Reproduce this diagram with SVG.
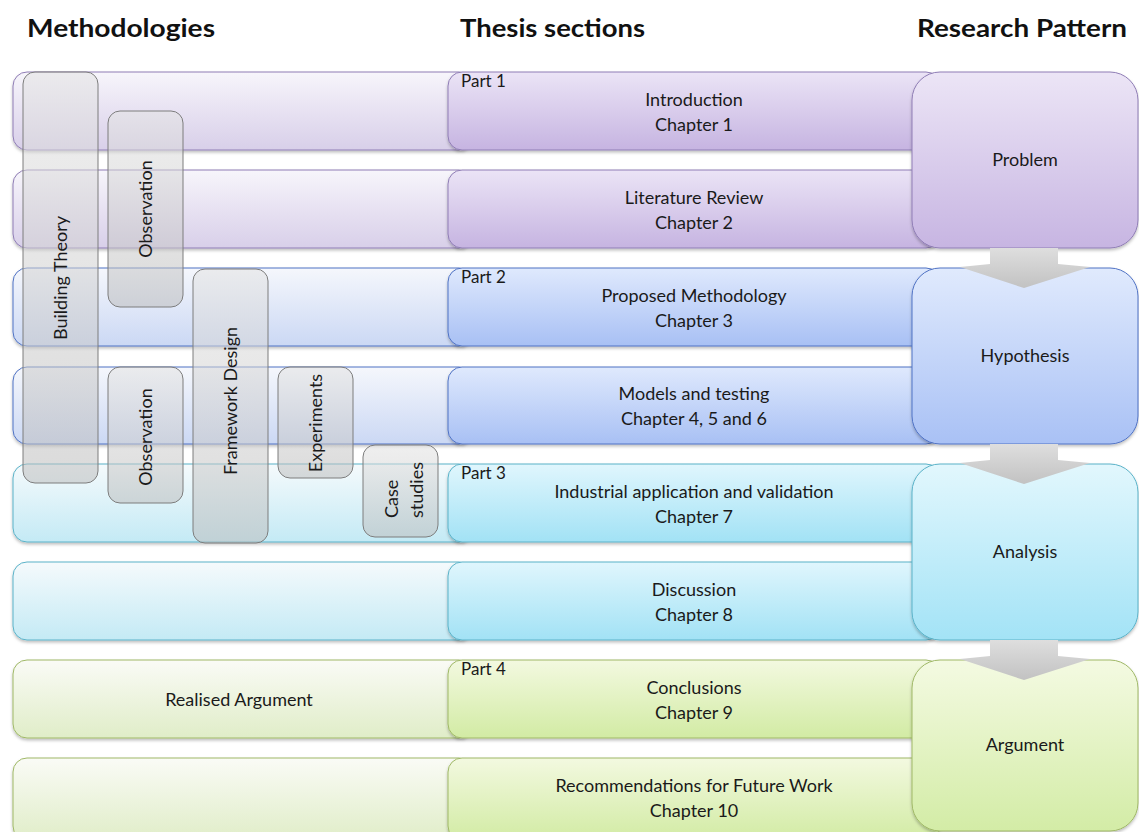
<svg xmlns="http://www.w3.org/2000/svg" width="1139" height="832" viewBox="0 0 1139 832">
  <defs>
    <!-- pale left-hand bars -->
    <linearGradient id="lPurple" x1="0" y1="0" x2="0" y2="1"><stop offset="0" stop-color="#f7f5fb"/><stop offset="1" stop-color="#d8cfe9"/></linearGradient>
    <linearGradient id="lBlue" x1="0" y1="0" x2="0" y2="1"><stop offset="0" stop-color="#f5f7fc"/><stop offset="1" stop-color="#cbd8f4"/></linearGradient>
    <linearGradient id="lCyan" x1="0" y1="0" x2="0" y2="1"><stop offset="0" stop-color="#f5fafc"/><stop offset="1" stop-color="#c4eaf5"/></linearGradient>
    <linearGradient id="lGreen" x1="0" y1="0" x2="0" y2="1"><stop offset="0" stop-color="#fafbf6"/><stop offset="1" stop-color="#e0edc8"/></linearGradient>
    <!-- coloured section boxes -->
    <linearGradient id="cPurple" x1="0" y1="0" x2="0" y2="1"><stop offset="0" stop-color="#ebe4f6"/><stop offset="1" stop-color="#c6b4e1"/></linearGradient>
    <linearGradient id="cBlue" x1="0" y1="0" x2="0" y2="1"><stop offset="0" stop-color="#dfe9fd"/><stop offset="1" stop-color="#a8c0f4"/></linearGradient>
    <linearGradient id="cCyan" x1="0" y1="0" x2="0" y2="1"><stop offset="0" stop-color="#e0f6fd"/><stop offset="1" stop-color="#a2e2f5"/></linearGradient>
    <linearGradient id="cGreen" x1="0" y1="0" x2="0" y2="1"><stop offset="0" stop-color="#f3f9e0"/><stop offset="1" stop-color="#d2eba4"/></linearGradient>
    <!-- research pattern boxes -->
    <linearGradient id="rPurple" x1="0" y1="0" x2="0" y2="1"><stop offset="0" stop-color="#ece5f6"/><stop offset="1" stop-color="#c7b5e2"/></linearGradient>
    <linearGradient id="rBlue" x1="0" y1="0" x2="0" y2="1"><stop offset="0" stop-color="#e0eafd"/><stop offset="1" stop-color="#a9c1f5"/></linearGradient>
    <linearGradient id="rCyan" x1="0" y1="0" x2="0" y2="1"><stop offset="0" stop-color="#e2f7fd"/><stop offset="1" stop-color="#a3e3f6"/></linearGradient>
    <linearGradient id="rGreen" x1="0" y1="0" x2="0" y2="1"><stop offset="0" stop-color="#f4fae2"/><stop offset="1" stop-color="#d3eca6"/></linearGradient>
    <!-- translucent methodology boxes and arrows -->
    <linearGradient id="gGray" x1="0" y1="0" x2="0" y2="1"><stop offset="0" stop-color="#e2e2e2" stop-opacity="0.55"/><stop offset="1" stop-color="#bdbdbd" stop-opacity="0.55"/></linearGradient>
    <linearGradient id="gArrow" x1="0" y1="0" x2="0" y2="1"><stop offset="0" stop-color="#dedede"/><stop offset="1" stop-color="#c2c2c2"/></linearGradient>
    <filter id="shadow" x="-5%" y="-10%" width="110%" height="130%">
      <feDropShadow dx="0" dy="2" stdDeviation="1.5" flood-color="#000" flood-opacity="0.25"/>
    </filter>
  </defs>
  <style>
    text { font-family: Lato, "Liberation Sans", sans-serif; fill: #1a1a1a; }
    .hdr { font-weight: bold; font-size: 25px; fill: #111; }
    .lbl { font-size: 18px; text-anchor: middle; }
    .part { font-size: 17px; text-anchor: start; }
    .vlbl { font-size: 18px; text-anchor: middle; dominant-baseline: central; }
    .bar { filter: url(#shadow); }
    .pu { stroke: #8f7db5; stroke-width: 1; }
    .bl { stroke: #4f72c4; stroke-width: 1; }
    .cy { stroke: #5ab2c8; stroke-width: 1; }
    .gr { stroke: #9fb866; stroke-width: 1; }
    .meth { fill: url(#gGray); stroke: #7d7d7d; stroke-width: 1; }
    .arrow { fill: url(#gArrow); stroke: none; }
  </style>

  <rect width="1139" height="832" fill="#ffffff"/>

  <!-- column headings -->
  <g id="headers">
    <text class="hdr" x="27" y="37" textLength="188" lengthAdjust="spacingAndGlyphs">Methodologies</text>
    <text class="hdr" x="460" y="37" textLength="185" lengthAdjust="spacingAndGlyphs">Thesis sections</text>
    <text class="hdr" x="917" y="37" textLength="210" lengthAdjust="spacingAndGlyphs">Research Pattern</text>
  </g>

  <!-- Part 1 -->
  <g id="row-introduction">
    <rect class="bar pu" x="13" y="72" width="460" height="78" rx="14" fill="url(#lPurple)"/>
    <rect class="bar pu" x="448" y="72" width="492" height="78" rx="14" fill="url(#cPurple)"/>
    <text class="part" x="461" y="87">Part 1</text>
    <text class="lbl" x="694" y="106">Introduction</text>
    <text class="lbl" x="694" y="131">Chapter 1</text>
  </g>
  <g id="row-literature">
    <rect class="bar pu" x="13" y="170" width="460" height="78" rx="14" fill="url(#lPurple)"/>
    <rect class="bar pu" x="448" y="170" width="492" height="78" rx="14" fill="url(#cPurple)"/>
    <text class="lbl" x="694" y="204">Literature Review</text>
    <text class="lbl" x="694" y="229">Chapter 2</text>
  </g>

  <!-- Part 2 -->
  <g id="row-methodology">
    <rect class="bar bl" x="13" y="268" width="460" height="78" rx="14" fill="url(#lBlue)"/>
    <rect class="bar bl" x="448" y="268" width="492" height="78" rx="14" fill="url(#cBlue)"/>
    <text class="part" x="461" y="283">Part 2</text>
    <text class="lbl" x="694" y="302">Proposed Methodology</text>
    <text class="lbl" x="694" y="327">Chapter 3</text>
  </g>
  <g id="row-models">
    <rect class="bar bl" x="13" y="367" width="460" height="77" rx="14" fill="url(#lBlue)"/>
    <rect class="bar bl" x="448" y="367" width="492" height="77" rx="14" fill="url(#cBlue)"/>
    <text class="lbl" x="694" y="400">Models and testing</text>
    <text class="lbl" x="694" y="425">Chapter 4, 5 and 6</text>
  </g>

  <!-- Part 3 -->
  <g id="row-industrial">
    <rect class="bar cy" x="13" y="464" width="460" height="78" rx="14" fill="url(#lCyan)"/>
    <rect class="bar cy" x="448" y="464" width="492" height="78" rx="14" fill="url(#cCyan)"/>
    <text class="part" x="461" y="479">Part 3</text>
    <text class="lbl" x="694" y="498">Industrial application and validation</text>
    <text class="lbl" x="694" y="523">Chapter 7</text>
  </g>
  <g id="row-discussion">
    <rect class="bar cy" x="13" y="562" width="460" height="78" rx="14" fill="url(#lCyan)"/>
    <rect class="bar cy" x="448" y="562" width="492" height="78" rx="14" fill="url(#cCyan)"/>
    <text class="lbl" x="694" y="596">Discussion</text>
    <text class="lbl" x="694" y="621">Chapter 8</text>
  </g>

  <!-- Part 4 -->
  <g id="row-conclusions">
    <rect class="bar gr" x="13" y="660" width="460" height="78" rx="14" fill="url(#lGreen)"/>
    <rect class="bar gr" x="448" y="660" width="492" height="78" rx="14" fill="url(#cGreen)"/>
    <text class="lbl" x="239" y="706">Realised Argument</text>
    <text class="part" x="461" y="675">Part 4</text>
    <text class="lbl" x="694" y="694">Conclusions</text>
    <text class="lbl" x="694" y="719">Chapter 9</text>
  </g>
  <g id="row-recommendations">
    <rect class="bar gr" x="13" y="758" width="460" height="82" rx="14" fill="url(#lGreen)"/>
    <rect class="bar gr" x="448" y="758" width="492" height="82" rx="14" fill="url(#cGreen)"/>
    <text class="lbl" x="694" y="792">Recommendations for Future Work</text>
    <text class="lbl" x="694" y="817">Chapter 10</text>
  </g>

  <!-- methodology boxes spanning the rows -->
  <g id="meth-building-theory">
    <rect class="meth" x="23" y="72" width="75" height="411" rx="12"/>
    <text class="vlbl" transform="translate(60,278) rotate(-90)">Building Theory</text>
  </g>
  <g id="meth-observation-1">
    <rect class="meth" x="108" y="111" width="75" height="196" rx="12"/>
    <text class="vlbl" transform="translate(145,209) rotate(-90)">Observation</text>
  </g>
  <g id="meth-framework-design">
    <rect class="meth" x="193" y="269" width="75" height="274" rx="12"/>
    <text class="vlbl" transform="translate(230,401) rotate(-90)">Framework Design</text>
  </g>
  <g id="meth-observation-2">
    <rect class="meth" x="108" y="367" width="75" height="136" rx="12"/>
    <text class="vlbl" transform="translate(145,437) rotate(-90)">Observation</text>
  </g>
  <g id="meth-experiments">
    <rect class="meth" x="278" y="367" width="75" height="111" rx="12"/>
    <text class="vlbl" transform="translate(315,423) rotate(-90)">Experiments</text>
  </g>
  <g id="meth-case-studies">
    <rect class="meth" x="363" y="445" width="75" height="92" rx="12"/>
    <text class="vlbl" style="text-anchor:start" transform="translate(391,518) rotate(-90)">Case</text>
    <text class="vlbl" style="text-anchor:start" transform="translate(416,518) rotate(-90)">studies</text>
  </g>

  <!-- research pattern -->
  <g id="rp-problem">
    <rect class="bar pu" x="912" y="72" width="226" height="176" rx="28" fill="url(#rPurple)"/>
    <text class="lbl" x="1025" y="166">Problem</text>
  </g>
  <g id="rp-hypothesis">
    <rect class="bar bl" x="912" y="268" width="226" height="176" rx="28" fill="url(#rBlue)"/>
    <text class="lbl" x="1025" y="362">Hypothesis</text>
  </g>
  <g id="rp-analysis">
    <rect class="bar cy" x="912" y="464" width="226" height="176" rx="28" fill="url(#rCyan)"/>
    <text class="lbl" x="1025" y="558">Analysis</text>
  </g>
  <g id="rp-argument">
    <rect class="bar gr" x="912" y="660" width="226" height="171" rx="28" fill="url(#rGreen)"/>
    <text class="lbl" x="1025" y="751">Argument</text>
  </g>

  <!-- block arrows between research stages -->
  <g id="connectors">
    <polygon class="arrow" points="990,248 1058,248 1058,264 1090,267 1024,288 960,267 990,264"/>
    <polygon class="arrow" points="990,444 1058,444 1058,460 1090,463 1024,484 960,463 990,460"/>
    <polygon class="arrow" points="990,640 1058,640 1058,656 1090,659 1024,680 960,659 990,656"/>
  </g>
</svg>
